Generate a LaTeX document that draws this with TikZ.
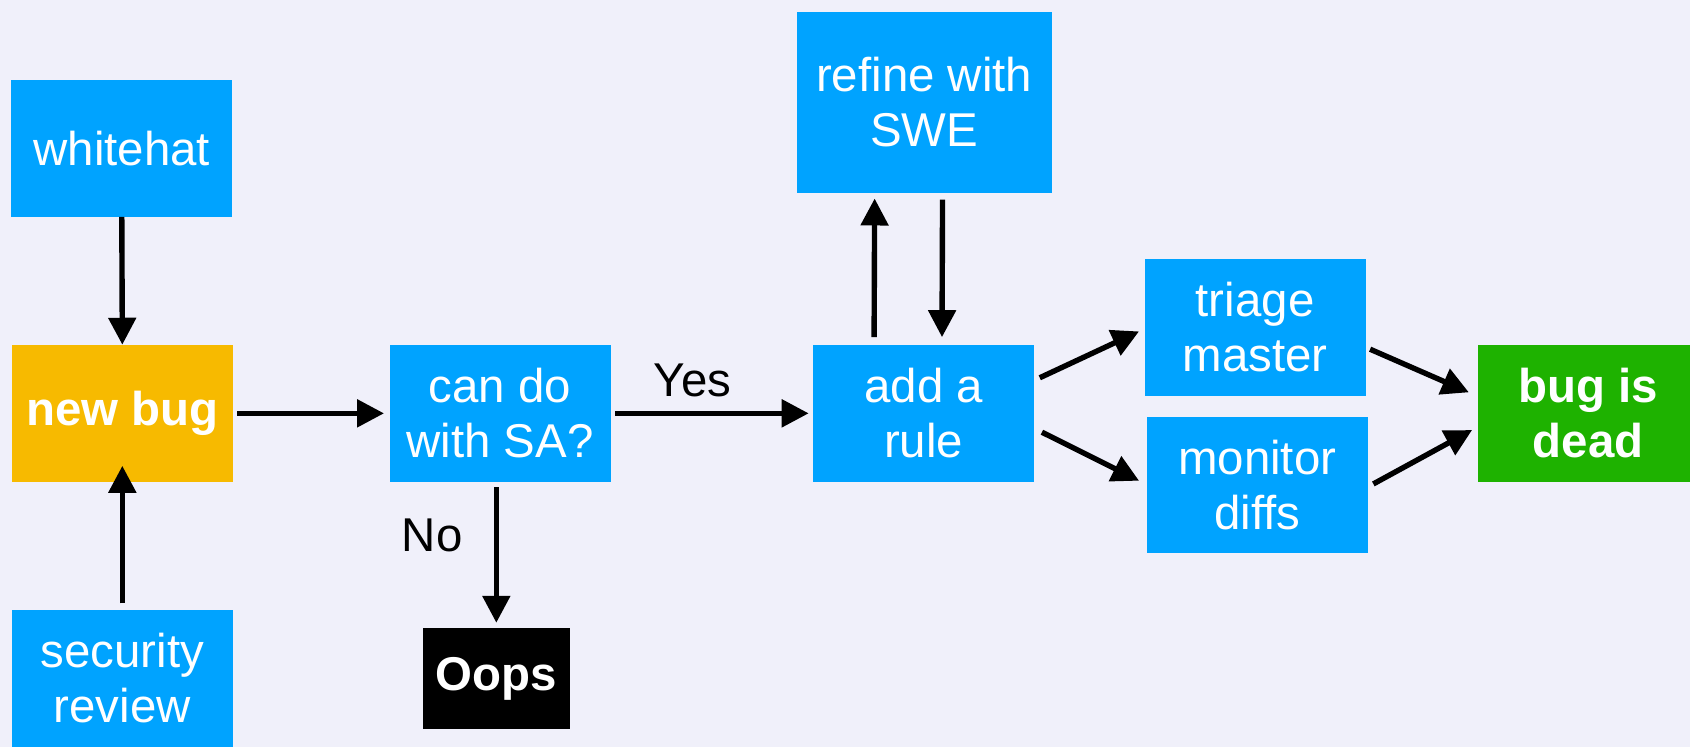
\documentclass[tikz,border=0pt]{standalone}
\usepackage{fontspec}
\setmainfont{Liberation Sans}
\usetikzlibrary{arrows.meta,calc}
\definecolor{bg}{RGB}{240,240,250}
\definecolor{boxblue}{RGB}{0,163,255}
\definecolor{boxyellow}{RGB}{247,186,0}
\definecolor{boxgreen}{RGB}{30,178,0}
\tikzset{
  box/.style={fill=boxblue, text=white, align=center, inner sep=0pt,
    minimum width=205pt, minimum height=127pt,
    font=\fontsize{44}{51}\selectfont},
  boldbox/.style={box, font=\fontsize{44}{51}\selectfont\bfseries},
  lbl/.style={text=black, font=\fontsize{44}{50}\selectfont, inner sep=0pt},
  arr/.style={draw=black, line width=5pt, -{Triangle[length=25pt,width=25pt]}}
}
\begin{document}
\begin{tikzpicture}[x=1pt,y=1pt]
\fill[bg] (0,0) rectangle (1568,-693);
\useasboundingbox (0,0) rectangle (1568,-693);
\node[box] (whitehat) at (113,-137.5) {whitehat};
\node[boldbox, fill=boxyellow] (newbug) at (113.5,-383.5) {new bug};
\node[box] (security) at (113.5,-629.5) {security\\review};
\node[box] (cando) at (464,-383.5) {can do\\with SA?};
\node[boldbox, fill=black, minimum width=137pt, minimum height=93pt] (oops) at (460.5,-629.5) {Oops};
\node[box] (add) at (857,-383.5) {add a\\rule};
\node[box, minimum width=237pt, minimum height=168pt] (refine) at (857.5,-95) {refine with\\SWE};
\node[box] (triage) at (1164.5,-303.5) {triage\\master};
\node[box] (monitor) at (1166.5,-450) {monitor\\diffs};
\node[boldbox, fill=boxgreen] (dead) at (1473.5,-383.5) {bug is\\dead};

\draw[arr] (whitehat.south) -- (newbug.north);
\draw[arr] ($(security.north)+(0,6)$) -- ($(newbug.south)+(0,15)$);
\draw[arr] ($(newbug.east)+(4,0)$) -- ($(cando.west)+(-5,0)$);
\draw[arr] ($(cando.east)+(4,0)$) -- coordinate[pos=0.4] (yespos) ($(add.west)+(-4,0)$);
\node[lbl] (yes) at ($(yespos)+(0,31)$) {Yes};
\draw[arr] ($(oops.north |- cando.south)+(0,-5)$) -- ($(oops.north)+(0,5)$);
\node[lbl] (no) at (401,-497) {No};
\draw[arr] ($(add.north)+(-46,7)$) -- ($(refine.south)+(-46,-5)$);
\draw[arr] ($(refine.south)+(17,-6)$) -- ($(add.north)+(17,7)$);
\draw[arr] ($(add.east)+(5,33)$) -- ($(triage.west)+(-5,-4)$);
\draw[arr] ($(add.east)+(7,-17.5)$) -- ($(monitor.west)+(-7,4)$);
\draw[arr] ($(triage.east)+(4,-20.5)$) -- ($(dead.west)+(-8,19.5)$);
\draw[arr] ($(monitor.east)+(5,1)$) -- ($(dead.west)+(-5,-15.5)$);
\end{tikzpicture}
\end{document}
